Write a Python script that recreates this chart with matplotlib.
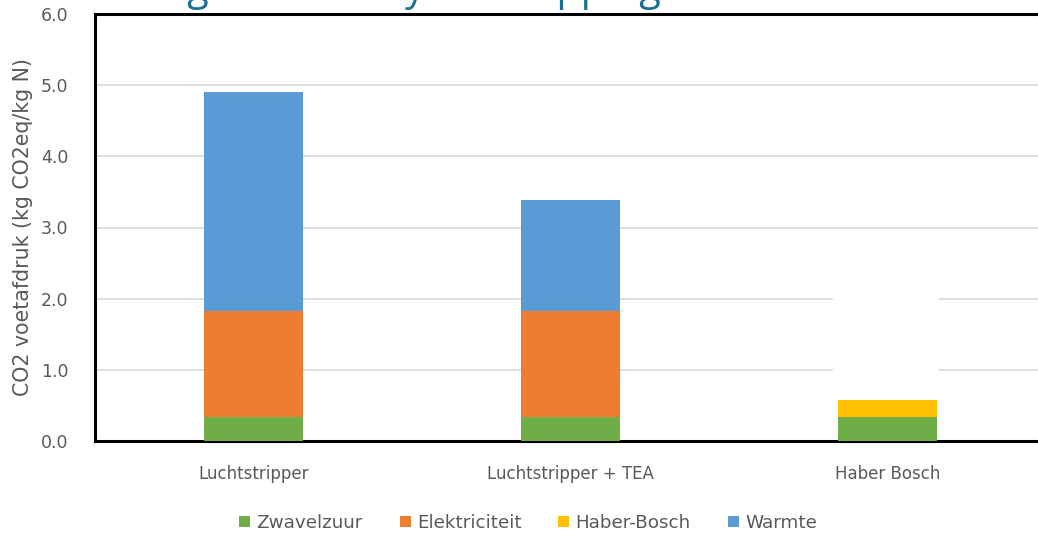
import matplotlib
matplotlib.use("Agg")
from matplotlib import pyplot as plt
from matplotlib.patches import Rectangle
import numpy as np

# stacked CO2 footprint per route
categories = ['Luchtstripper', 'Luchtstripper + TEA', 'Haber Bosch']
zwavelzuur = [0.34, 0.34, 0.34]
elektriciteit = [1.49, 1.49, 0.0]
haber_bosch = [0.0, 0.0, 0.24]
warmte = [3.07, 1.55, 0.0]

series = [
    ('Zwavelzuur', zwavelzuur, '#70AD47'),
    ('Elektriciteit', elektriciteit, '#ED7D31'),
    ('Haber-Bosch', haber_bosch, '#FFC000'),
    ('Warmte', warmte, '#5B9BD5'),
]

plt.rcParams['font.family'] = ['DejaVu Sans']
grey = '#595959'

fig = plt.figure(figsize=(10.38, 5.35), dpi=100)
ax = fig.add_axes([95 / 1038, 1 - 441 / 535, 951 / 1038, 427 / 535])

x = np.arange(len(categories))
bottom = np.zeros(len(categories))
for name, vals, col in series:
    ax.bar(x, vals, width=0.315, bottom=bottom, color=col, label=name, zorder=3)
    bottom += np.array(vals)

# blank box over the Haber Bosch column
ax.add_patch(Rectangle((x[2] - 0.172, bottom[2]), 0.334, 2.24 - bottom[2],
                       facecolor='white', edgecolor='none', zorder=2))

ax.set_xlim(-0.5, 2.5)
ax.set_ylim(0, 6)
ax.set_yticks(np.arange(0, 6.1, 1.0))
ax.set_yticklabels([f'{v:.1f}' for v in np.arange(0, 6.1, 1.0)])
ax.set_xticks(x)
ax.set_xticklabels(categories)
ax.yaxis.grid(True, color='#D9D9D9', linewidth=1.2, zorder=1)
ax.set_axisbelow(True)
ax.tick_params(axis='both', length=0, colors=grey)
ax.tick_params(axis='x', pad=17, labelsize=12)
ax.tick_params(axis='y', pad=19, labelsize=12.5)
for side in ['left', 'top', 'bottom']:
    ax.spines[side].set_linewidth(2.2)
    ax.spines[side].set_color('black')
ax.spines['right'].set_visible(False)

ax.set_ylabel('CO2 voetafdruk (kg CO2eq/kg N)', color=grey, fontsize=14.8)
ax.yaxis.set_label_coords(-62 / 951, 0.5)

leg = fig.legend(loc='center', bbox_to_anchor=(528 / 1038, 1 - 523 / 535),
                 ncol=4, frameon=False, fontsize=13.2, handlelength=0.6, handleheight=0.6,
                 handletextpad=0.35, columnspacing=2.0)
for t in leg.get_texts():
    t.set_color(grey)

fig.text(0.09, 1 - 0 / 535, 'Nitrogen recovery via stripping', color='#1B6F94',
         fontsize=28.5, va='baseline', ha='left', family='Open Sans')

fig.savefig('out.png', dpi=100)
